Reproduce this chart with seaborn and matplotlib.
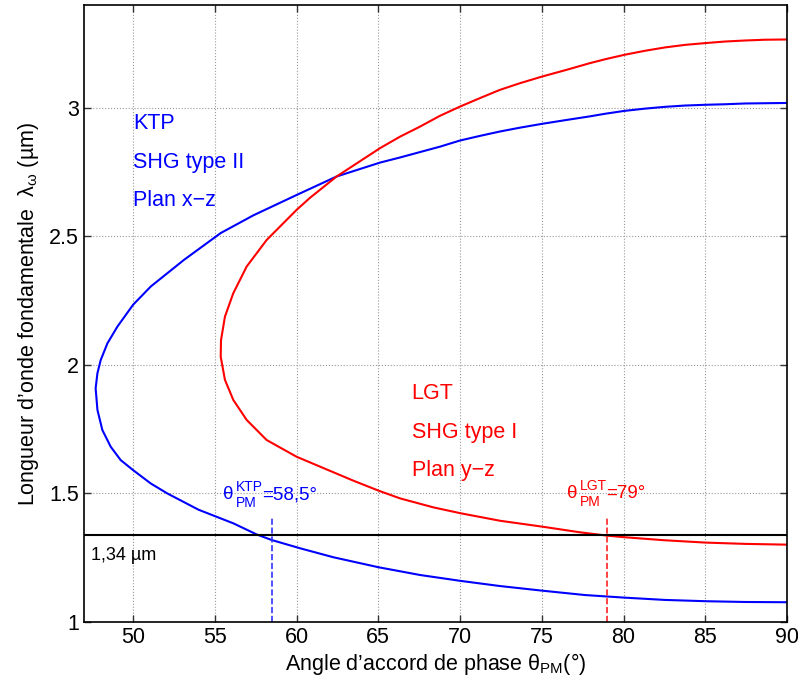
import pandas as pd
import seaborn as sns
import matplotlib.pyplot as plt
from matplotlib.transforms import offset_copy

sns.set_style("ticks")
plt.rcParams['font.family'] = ['Liberation Sans', 'DejaVu Sans']
plt.rcParams['mathtext.fontset'] = 'custom'
plt.rcParams['mathtext.rm'] = 'Liberation Sans'
plt.rcParams['mathtext.it'] = 'Liberation Sans:italic'
plt.rcParams['mathtext.sf'] = 'Liberation Sans'
plt.rcParams['text.color'] = 'black'
plt.rcParams['axes.labelcolor'] = 'black'

# KTP, SHG type II, plan x-z (lower branch, then upper branch)
ktp_theta = [90, 87.43, 85.02, 82.53, 80.03, 77.64, 75.03, 72.44, 70.04, 67.55, 65.02,
             62.25, 60.21, 58.48, 57.55, 56.13, 54.0, 52.10, 51.08, 50.0, 49.24, 48.63,
             48.12, 47.82, 47.71, 47.82, 48.02, 48.43, 49.04, 50.0, 51.08, 53.12, 55.36,
             57.36, 60.0, 62.45, 65.10, 66.33, 67.55, 68.77, 70.0, 71.22, 72.44, 73.67,
             75.03, 76.52, 77.95, 78.87, 80.03, 81.31, 82.53, 83.76, 85.02, 86.2, 87.43,
             88.65, 90]
ktp_lambda = [1.077, 1.078, 1.081, 1.086, 1.095, 1.105, 1.122, 1.140, 1.160, 1.183, 1.213,
              1.252, 1.287, 1.319, 1.341, 1.384, 1.437, 1.500, 1.539, 1.591, 1.630, 1.682,
              1.747, 1.825, 1.909, 1.968, 2.019, 2.084, 2.149, 2.234, 2.305, 2.409, 2.513,
              2.582, 2.661, 2.733, 2.787, 2.807, 2.828, 2.849, 2.873, 2.891, 2.908, 2.923,
              2.938, 2.953, 2.967, 2.977, 2.988, 2.997, 3.004, 3.009, 3.012, 3.014, 3.017,
              3.018, 3.019]

# LGT, SHG type I, plan y-z
lgt_theta = [90, 87.43, 85.02, 82.53, 80.03, 79.01, 77.34, 75.03, 72.44, 70.04, 68.37,
             66.33, 65.02, 63.47, 62.05, 60.0, 58.17, 56.95, 56.13, 55.62, 55.36, 55.38,
             55.62, 56.13, 56.95, 58.17, 60.0, 60.82, 62.45, 65.10, 66.33, 67.55, 68.77,
             70.0, 71.22, 72.44, 73.67, 75.03, 76.52, 77.95, 78.87, 80.03, 81.31, 82.53,
             83.76, 85.02, 86.2, 87.43, 88.65, 90]
lgt_lambda = [1.301, 1.304, 1.309, 1.318, 1.330, 1.336, 1.349, 1.371, 1.394, 1.423, 1.446,
              1.481, 1.511, 1.550, 1.588, 1.643, 1.708, 1.786, 1.864, 1.942, 2.032, 2.097,
              2.188, 2.279, 2.383, 2.486, 2.603, 2.650, 2.733, 2.843, 2.888, 2.927, 2.969,
              3.005, 3.038, 3.070, 3.096, 3.122, 3.148, 3.174, 3.189, 3.206, 3.222, 3.235,
              3.245, 3.252, 3.258, 3.262, 3.265, 3.266]

lambda_pump = 1.34
theta_pm_ktp = 58.5
theta_pm_lgt = 79.0
dash_top = 1.41

df_ktp = pd.DataFrame({"theta": ktp_theta, "lam": ktp_lambda})
df_lgt = pd.DataFrame({"theta": lgt_theta, "lam": lgt_lambda})

fig = plt.figure(figsize=(7.98, 6.79), dpi=100)
ax = fig.add_axes([0.1053, 0.0839, 0.8809, 0.9087])

sns.lineplot(data=df_ktp, x="theta", y="lam", sort=False, estimator=None,
             color="#0000ff", linewidth=1.5, ax=ax)
sns.lineplot(data=df_lgt, x="theta", y="lam", sort=False, estimator=None,
             color="#ff0000", linewidth=1.5, ax=ax)

ax.axhline(lambda_pump, color="black", linewidth=1.5)
ax.plot([theta_pm_ktp] * 2, [1, dash_top], color="#3333ff", linestyle="--", linewidth=1.2)
ax.plot([theta_pm_lgt] * 2, [1, dash_top], color="#ff2222", linestyle="--", linewidth=1.2)

ax.set_xlim(47, 90)
ax.set_ylim(1, 3.4)
ax.set_xticks([50, 55, 60, 65, 70, 75, 80, 85, 90])
ax.set_yticks([1, 1.5, 2, 2.5, 3])
ax.set_yticklabels(["1", "1.5", "2", "2.5", "3"])
ax.grid(True, color="0.6", linestyle=":", linewidth=0.8)
ax.tick_params(direction="in", top=True, right=True, length=5, labelsize=15.5,
               width=1, color="0.2", labelcolor="black")
for s in ax.spines.values():
    s.set_linewidth(1.2)
    s.set_color("black")

ax.set_xlabel(r"Angle d’accord de phase θ$_{\mathrm{PM}}$(°)", fontsize=15.5, labelpad=2)
ax.set_ylabel(r"Longueur d’onde fondamentale  λ$_{\mathrm{ω}}$ (µm)", fontsize=15.5, labelpad=6)

for txt, yv in zip(["KTP", "SHG type II", "Plan x−z"], [2.917, 2.768, 2.620]):
    ax.text(50.0, yv, txt, color="#0000ff", fontsize=15.5)
for txt, yv in zip(["LGT", "SHG type I", "Plan y−z"], [1.867, 1.715, 1.568]):
    ax.text(67.04, yv, txt, color="#ff0000", fontsize=15.5)


def theta_label(x, y, sup, value, color, eq_dx):
    # θ with stacked sub/superscript, built from separate texts (offsets in pixels)
    ax.text(x, y, "θ", color=color, fontsize=13.5)
    ax.text(x, y, sup, color=color, fontsize=10,
            transform=offset_copy(ax.transData, fig, x=13, y=8, units="dots"))
    ax.text(x, y, "PM", color=color, fontsize=10,
            transform=offset_copy(ax.transData, fig, x=13, y=-8, units="dots"))
    ax.text(x, y, value, color=color, fontsize=13.5,
            transform=offset_copy(ax.transData, fig, x=eq_dx, y=0, units="dots"))


theta_label(55.52, 1.477, "KTP", "=58,5°", "#0000ff", 39)
theta_label(76.52, 1.481, "LGT", "=79°", "#ff0000", 40)
ax.text(47.4, 1.241, "1,34 µm", color="black", fontsize=13)

fig.savefig("out.png", dpi=100)
